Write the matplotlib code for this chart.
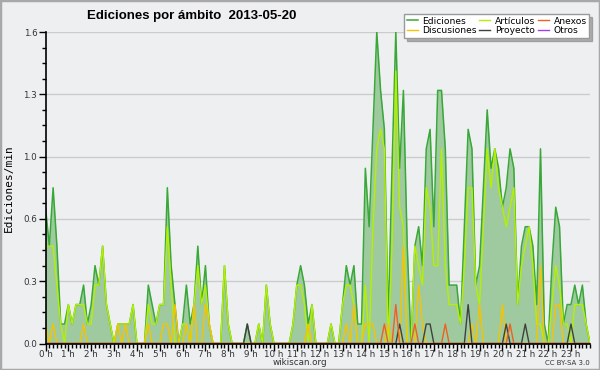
import numpy as np
import matplotlib.pyplot as plt
from matplotlib.patches import Rectangle

# Ediciones por ambito, bins de 10 minutos (144 puntos)
ediciones = [0.7, 0.5, 0.8, 0.5, 0.1, 0.1, 0.2, 0.1, 0.2, 0.2, 0.3, 0.1, 0.2, 0.4, 0.3, 0.5,
             0.2, 0.1, 0.0, 0.1, 0.1, 0.1, 0.1, 0.2, 0.0, 0.0, 0.0, 0.3, 0.2, 0.1, 0.2, 0.2,
             0.8, 0.4, 0.2, 0.0, 0.1, 0.3, 0.1, 0.2, 0.5, 0.2, 0.4, 0.1, 0.0, 0.0, 0.0, 0.4,
             0.1, 0.0, 0.0, 0.0, 0.0, 0.1, 0.0, 0.0, 0.1, 0.0, 0.3, 0.1, 0.0, 0.0, 0.0, 0.0,
             0.0, 0.1, 0.3, 0.4, 0.3, 0.1, 0.2, 0.0, 0.0, 0.0, 0.0, 0.1, 0.0, 0.0, 0.2, 0.4,
             0.3, 0.4, 0.1, 0.1, 0.9, 0.6, 1.1, 1.6, 1.3, 1.1, 0.1, 0.9, 1.6, 0.9, 1.3, 0.5,
             0.0, 0.5, 0.6, 0.4, 1.0, 1.1, 0.6, 1.3, 1.3, 1.0, 0.3, 0.3, 0.3, 0.1, 0.6, 1.1,
             1.0, 0.3, 0.4, 0.8, 1.2, 0.9, 1.0, 0.9, 0.7, 0.8, 1.0, 0.9, 0.2, 0.5, 0.6, 0.6,
             0.5, 0.2, 1.0, 0.1, 0.0, 0.4, 0.7, 0.6, 0.1, 0.2, 0.2, 0.3, 0.2, 0.3, 0.1, 0.0]
articulos = [0.5, 0.5, 0.5, 0.3, 0.1, 0.0, 0.2, 0.1, 0.2, 0.2, 0.2, 0.1, 0.1, 0.3, 0.3, 0.5,
             0.2, 0.1, 0.0, 0.1, 0.1, 0.1, 0.1, 0.2, 0.0, 0.0, 0.0, 0.2, 0.1, 0.1, 0.2, 0.2,
             0.6, 0.3, 0.0, 0.0, 0.1, 0.1, 0.0, 0.2, 0.4, 0.2, 0.3, 0.1, 0.0, 0.0, 0.0, 0.4,
             0.1, 0.0, 0.0, 0.0, 0.0, 0.0, 0.0, 0.0, 0.1, 0.0, 0.3, 0.1, 0.0, 0.0, 0.0, 0.0,
             0.0, 0.1, 0.3, 0.3, 0.2, 0.0, 0.2, 0.0, 0.0, 0.0, 0.0, 0.1, 0.0, 0.0, 0.2, 0.3,
             0.3, 0.2, 0.0, 0.0, 0.3, 0.0, 0.6, 1.0, 1.1, 1.0, 0.0, 0.5, 1.4, 0.7, 0.6, 0.0,
             0.0, 0.5, 0.4, 0.3, 0.8, 0.7, 0.4, 0.4, 1.0, 0.4, 0.2, 0.2, 0.2, 0.1, 0.4, 0.8,
             0.8, 0.3, 0.2, 0.6, 1.0, 0.8, 1.0, 0.8, 0.7, 0.6, 0.7, 0.8, 0.2, 0.4, 0.5, 0.6,
             0.4, 0.1, 0.1, 0.0, 0.0, 0.2, 0.4, 0.3, 0.1, 0.1, 0.0, 0.2, 0.2, 0.2, 0.1, 0.0]
discusiones = [0.1, 0.0, 0.1, 0.0, 0.0, 0.0, 0.0, 0.0, 0.0, 0.0, 0.1, 0.0, 0.0, 0.0, 0.0, 0.0,
               0.0, 0.0, 0.0, 0.1, 0.0, 0.1, 0.0, 0.0, 0.0, 0.0, 0.0, 0.1, 0.0, 0.0, 0.0, 0.1,
               0.1, 0.0, 0.2, 0.0, 0.0, 0.1, 0.0, 0.2, 0.0, 0.0, 0.2, 0.1, 0.0, 0.0, 0.0, 0.0,
               0.0, 0.0, 0.0, 0.0, 0.0, 0.0, 0.0, 0.0, 0.0, 0.0, 0.0, 0.0, 0.0, 0.0, 0.0, 0.0,
               0.0, 0.0, 0.0, 0.0, 0.0, 0.1, 0.0, 0.0, 0.0, 0.0, 0.0, 0.0, 0.0, 0.0, 0.0, 0.1,
               0.0, 0.2, 0.0, 0.0, 0.1, 0.1, 0.1, 0.0, 0.0, 0.0, 0.1, 0.0, 0.0, 0.0, 0.5, 0.0,
               0.0, 0.0, 0.3, 0.1, 0.0, 0.0, 0.0, 0.0, 0.0, 0.0, 0.0, 0.0, 0.0, 0.0, 0.0, 0.0,
               0.1, 0.0, 0.2, 0.0, 0.0, 0.0, 0.0, 0.0, 0.2, 0.0, 0.0, 0.0, 0.0, 0.0, 0.0, 0.0,
               0.0, 0.0, 0.4, 0.0, 0.0, 0.0, 0.2, 0.2, 0.0, 0.0, 0.0, 0.0, 0.0, 0.0, 0.0, 0.0]
proyecto_idx = [53, 93, 100, 101, 111, 121, 126, 138]
proyecto_val = [0.1, 0.1, 0.1, 0.1, 0.2, 0.1, 0.1, 0.1]
anexos_idx = [89, 92, 97, 105, 122]
anexos_val = [0.1, 0.2, 0.1, 0.1, 0.1]
horas = [f'{h} h' for h in range(24)]

n = len(ediciones)
x = np.arange(n)
proyecto = np.zeros(n)
proyecto[proyecto_idx] = proyecto_val
anexos = np.zeros(n)
anexos[anexos_idx] = anexos_val
otros = np.zeros(n)

bg = '#eeeff1'
fig = plt.figure(figsize=(6, 3.7), dpi=100, facecolor=bg)
ax = fig.add_axes([45.5 / 600, 1 - 343.5 / 370, 544.5 / 600, 311.5 / 370])
ax.set_facecolor(bg)

ax.fill_between(x, ediciones, color='#9fca9f', lw=0)
l1, = ax.plot(x, ediciones, color='#38a838', lw=1.1, label='Ediciones')
l2, = ax.plot(x, articulos, color='#b4f000', lw=1.0, label='Artículos')
l3, = ax.plot(x, discusiones, color='#f5c400', lw=1.0, label='Discusiones')
l4, = ax.plot(x, proyecto, color='#404040', lw=1.0, label='Proyecto')
l5, = ax.plot(x, anexos, color='#f06020', lw=1.0, label='Anexos')
l6, = ax.plot(x, otros, color='#a040f0', lw=1.0, label='Otros')

ax.set_xlim(0, n - 1)
ax.set_ylim(0, 1.6)
ax.set_xticks(np.arange(0, n, 6))
ax.set_xticklabels(horas)
ax.set_xticks(x, minor=True)
yt = np.linspace(0, 1.6, 6)
ax.set_yticks(yt)
ax.set_yticklabels([f'{v:.1f}' for v in yt])
ax.set_yticks(np.arange(0, 1.61, 0.08), minor=True)
ax.tick_params(axis='both', which='major', length=5, width=1, labelsize=6.3,
               labelcolor='#333333')
ax.tick_params(axis='x', which='major', pad=-0.5)
ax.tick_params(axis='y', which='major', pad=1)
ax.tick_params(axis='both', which='minor', length=3, width=1)
ax.yaxis.grid(True, color='#cccccc', lw=1)
ax.set_axisbelow(True)
for s in ['top', 'right']:
    ax.spines[s].set_visible(False)
for s in ['left', 'bottom']:
    ax.spines[s].set_linewidth(1.2)

ax.set_ylabel('Ediciones/min', family='DejaVu Sans Mono', fontsize=8)
ax.yaxis.set_label_coords(-0.058, 0.5)
fig.text(0.32, 0.958, 'Ediciones por ámbito  2013-05-20', ha='center', va='center',
         fontsize=9.5, fontweight='bold', family='Liberation Sans')
fig.text(0.5, 0.02, 'wikiscan.org', ha='center', va='center', fontsize=6.3, color='#333333')
fig.text(0.983, 0.02, 'CC BY-SA 3.0', ha='right', va='center', fontsize=5, color='#333333')

leg = fig.legend(handles=[l1, l3, l2, l4, l5, l6], ncol=3, loc='upper right',
                 bbox_to_anchor=(0.99, 0.975), fontsize=6.6, handlelength=1.2,
                 handletextpad=0.5, columnspacing=0.3, labelspacing=0.05,
                 borderpad=0.3, fancybox=False, shadow={'color': '#707070'},
                 framealpha=1, edgecolor='#999999')
fig.patches.append(Rectangle((0, 0), 1, 1, transform=fig.transFigure, fill=False,
                             edgecolor='#a8a8a8', lw=2.5))

plt.savefig('out.png', dpi=100, facecolor=bg)
